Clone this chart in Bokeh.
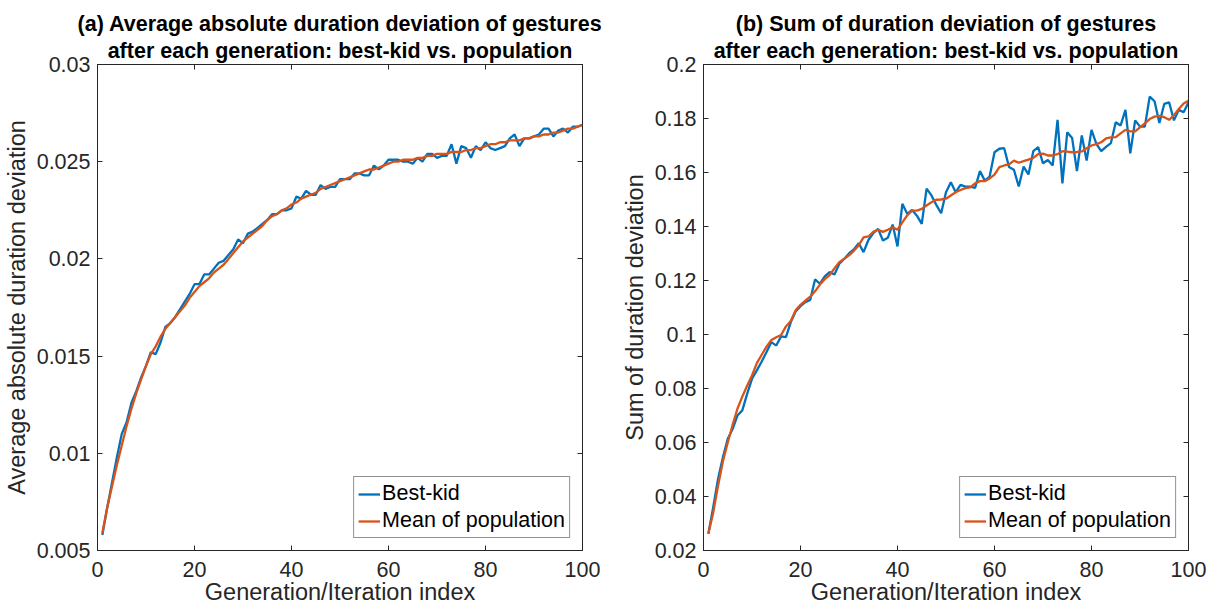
from bokeh.plotting import figure
from bokeh.layouts import row
from bokeh.models import Range1d, FixedTicker, LinearAxis, Legend, LegendItem, Title
from bokeh.embed import file_html
from bokeh.resources import INLINE

gen = list(range(1, 101))

best_a = [0.0058, 0.0072, 0.0085, 0.0098, 0.0110, 0.0116, 0.0126, 0.0132, 0.0139, 0.0145,
          0.0152, 0.0151, 0.0157, 0.0165, 0.0167, 0.0170, 0.0174, 0.0178, 0.0182, 0.0187,
          0.0187, 0.0192, 0.0192, 0.0195, 0.0198, 0.0199, 0.0202, 0.0205, 0.0210, 0.0208,
          0.0213, 0.0214, 0.0216, 0.0218, 0.0220, 0.0223, 0.0223, 0.0225, 0.0225, 0.0226,
          0.0232, 0.0231, 0.0235, 0.0233, 0.0233, 0.0238, 0.0236, 0.0237, 0.0237, 0.0241,
          0.0241, 0.0241, 0.0244, 0.0244, 0.0243, 0.0243, 0.0248, 0.0246, 0.0248, 0.0251,
          0.0251, 0.0251, 0.0250, 0.0250, 0.0249, 0.0252, 0.0250, 0.0254, 0.0254, 0.0252,
          0.0253, 0.0253, 0.0259, 0.0249, 0.0258, 0.0257, 0.0252, 0.0258, 0.0256, 0.0260,
          0.0257, 0.0256, 0.0257, 0.0258, 0.0262, 0.0264, 0.0258, 0.0262, 0.0262, 0.0263,
          0.0264, 0.0267, 0.0267, 0.0263, 0.0266, 0.0267, 0.0265, 0.0268, 0.0268, 0.0269]

mean_a = [0.0059, 0.0072, 0.0083, 0.0094, 0.0104, 0.0114, 0.0123, 0.0131, 0.0138, 0.0145,
          0.0151, 0.0155, 0.0160, 0.0164, 0.0167, 0.0170, 0.0173, 0.0176, 0.0180, 0.0183,
          0.0186, 0.0188, 0.0190, 0.0193, 0.0195, 0.0197, 0.0200, 0.0203, 0.0206, 0.0209,
          0.0211, 0.0213, 0.0215, 0.0217, 0.0220, 0.0222, 0.0223, 0.0225, 0.0226, 0.0228,
          0.0229, 0.0231, 0.0232, 0.0233, 0.0234, 0.0236, 0.0237, 0.0238, 0.0239, 0.0240,
          0.0241, 0.0242, 0.0243, 0.0244, 0.0245, 0.0246, 0.0246, 0.0247, 0.0248, 0.0249,
          0.0250, 0.0250, 0.0251, 0.0251, 0.0251, 0.0252, 0.0252, 0.0253, 0.0253, 0.0254,
          0.0254, 0.0254, 0.0255, 0.0255, 0.0255, 0.0256, 0.0256, 0.0257, 0.0257, 0.0258,
          0.0259, 0.0259, 0.0260, 0.0260, 0.0261, 0.0261, 0.0261, 0.0262, 0.0262, 0.0263,
          0.0263, 0.0264, 0.0264, 0.0265, 0.0265, 0.0266, 0.0267, 0.0267, 0.0268, 0.0269]

best_b = [0.0262, 0.0360, 0.0465, 0.0545, 0.0614, 0.0650, 0.0700, 0.0719, 0.0780, 0.0836,
          0.0867, 0.0900, 0.0935, 0.0972, 0.0959, 0.0993, 0.0990, 0.1046, 0.1085, 0.1105,
          0.1120, 0.1128, 0.1204, 0.1188, 0.1215, 0.1231, 0.1222, 0.1262, 0.1280, 0.1300,
          0.1315, 0.1338, 0.1305, 0.1350, 0.1375, 0.1391, 0.1348, 0.1358, 0.1407, 0.1326,
          0.1484, 0.1447, 0.1461, 0.1440, 0.1410, 0.1540, 0.1515, 0.1480, 0.1449, 0.1527,
          0.1564, 0.1527, 0.1554, 0.1548, 0.1548, 0.1543, 0.1605, 0.1570, 0.1585, 0.1675,
          0.1688, 0.1690, 0.1620, 0.1610, 0.1548, 0.1622, 0.1593, 0.1679, 0.1694, 0.1634,
          0.1646, 0.1626, 0.1795, 0.1560, 0.1749, 0.1728, 0.1605, 0.1737, 0.1644, 0.1758,
          0.1706, 0.1679, 0.1695, 0.1709, 0.1786, 0.1774, 0.1832, 0.1671, 0.1793, 0.1770,
          0.1770, 0.1881, 0.1864, 0.1783, 0.1854, 0.1860, 0.1793, 0.1832, 0.1823, 0.1860]

mean_b = [0.0262, 0.0340, 0.0440, 0.0530, 0.0600, 0.0665, 0.0725, 0.0770, 0.0810, 0.0848,
          0.0894, 0.0925, 0.0955, 0.0980, 0.0990, 0.0998, 0.1030, 0.1050, 0.1090, 0.1110,
          0.1125, 0.1140, 0.1160, 0.1185, 0.1205, 0.1220, 0.1245, 0.1268, 0.1280, 0.1293,
          0.1310, 0.1330, 0.1360, 0.1363, 0.1380, 0.1388, 0.1380, 0.1388, 0.1397, 0.1388,
          0.1415, 0.1441, 0.1459, 0.1459, 0.1465, 0.1478, 0.1490, 0.1499, 0.1500, 0.1503,
          0.1515, 0.1527, 0.1535, 0.1542, 0.1545, 0.1560, 0.1568, 0.1568, 0.1578, 0.1592,
          0.1620, 0.1626, 0.1630, 0.1644, 0.1636, 0.1642, 0.1648, 0.1654, 0.1668, 0.1670,
          0.1663, 0.1663, 0.1668, 0.1679, 0.1677, 0.1675, 0.1676, 0.1678, 0.1690, 0.1700,
          0.1705, 0.1712, 0.1726, 0.1730, 0.1731, 0.1745, 0.1758, 0.1752, 0.1752, 0.1767,
          0.1782, 0.1798, 0.1807, 0.1810, 0.1805, 0.1795, 0.1812, 0.1835, 0.1856, 0.1866]

xticks = [0, 20, 40, 60, 80, 100]
yticks_a = [0.005, 0.01, 0.015, 0.02, 0.025, 0.03]
ylabels_a = ["0.005", "0.01", "0.015", "0.02", "0.025", "0.03"]
yticks_b = [0.02, 0.04, 0.06, 0.08, 0.1, 0.12, 0.14, 0.16, 0.18, 0.2]
ylabels_b = ["0.02", "0.04", "0.06", "0.08", "0.1", "0.12", "0.14", "0.16", "0.18", "0.2"]

titles_a = ["(a) Average absolute duration deviation of gestures",
            "after each generation: best-kid vs. population"]
titles_b = ["(b) Sum of duration deviation of gestures",
            "after each generation: best-kid vs. population"]
ylabel_a = "Average absolute duration deviation"
ylabel_b = "Sum of duration deviation"
xlabel = "Generation/Iteration index"
series_names = ["Best-kid", "Mean of population"]

FONT = "Liberation Sans"
AX = "#262626"
BLUE = "#0072BD"
ORANGE = "#D95319"


def style_axis(ax, ticks, labels=None, show_labels=True):
    ax.ticker = FixedTicker(ticks=ticks)
    ax.axis_line_color = AX
    ax.axis_line_width = 1
    ax.major_tick_line_color = AX
    ax.major_tick_in = 5
    ax.major_tick_out = 0
    ax.minor_tick_line_color = None
    ax.major_label_text_font = FONT
    ax.major_label_text_color = AX if show_labels else None
    ax.major_label_text_font_size = "21.5px" if show_labels else "1px"
    ax.major_label_standoff = 7 if show_labels else 0
    ax.axis_label_text_font = FONT
    ax.axis_label_text_color = AX
    ax.axis_label_text_font_size = "23.5px"
    ax.axis_label_text_font_style = "normal"
    ax.axis_label_standoff = 4
    if labels is not None and show_labels:
        ax.major_label_overrides = {t: l for t, l in zip(ticks, labels)}


def make_panel(titles, ylab, yr, yticks, ylabels, best, mean, bl, br):
    p = figure(width=604, height=612, x_range=Range1d(0, 100), y_range=Range1d(*yr),
               output_backend="svg", toolbar_location=None, title=None,
               min_border_left=bl, min_border_right=br, min_border_top=64,
               min_border_bottom=62)
    p.background_fill_color = "white"
    p.border_fill_color = "white"
    p.outline_line_color = AX
    p.grid.visible = False
    p.xaxis.axis_label = xlabel
    p.yaxis.axis_label = ylab
    style_axis(p.xaxis[0], xticks)
    style_axis(p.yaxis[0], yticks, ylabels)
    p.xaxis[0].major_label_standoff = 11
    p.xaxis[0].axis_label_standoff = -1
    top = LinearAxis()
    style_axis(top, xticks, show_labels=False)
    p.add_layout(top, "above")
    right = LinearAxis()
    style_axis(right, yticks, show_labels=False)
    p.add_layout(right, "right")
    for i, t in enumerate(reversed(titles)):
        p.add_layout(Title(text=t, align="center", text_font=FONT, text_font_size="21.5px",
                           text_font_style="bold", text_color="black",
                           standoff=3 if i == 0 else 0, offset=0), "above")

    r1 = p.line(gen, best, line_color=BLUE, line_width=2.3)
    r2 = p.line(gen, mean, line_color=ORANGE, line_width=2.3)
    leg = Legend(items=[LegendItem(label=series_names[0], renderers=[r1]),
                        LegendItem(label=series_names[1], renderers=[r2])],
                 location="bottom_right")
    leg.margin = 12
    leg.padding = 4
    leg.spacing = 2
    leg.glyph_width = 22
    leg.glyph_height = 24
    leg.label_standoff = 2
    leg.label_text_font = FONT
    leg.label_text_font_size = "21.5px"
    leg.label_text_color = "black"
    leg.border_line_color = AX
    leg.border_line_width = 1
    leg.background_fill_color = "white"
    leg.background_fill_alpha = 1
    p.add_layout(leg, "center")
    return p


pa = make_panel(titles_a, ylabel_a, (0.005, 0.03), yticks_a, ylabels_a, best_a, mean_a, 97, 22)
pb = make_panel(titles_b, ylabel_b, (0.02, 0.2), yticks_b, ylabels_b, best_b, mean_b, 99, 20)

layout = row(pa, pb)
open("out.html", "w").write(file_html(layout, INLINE))
